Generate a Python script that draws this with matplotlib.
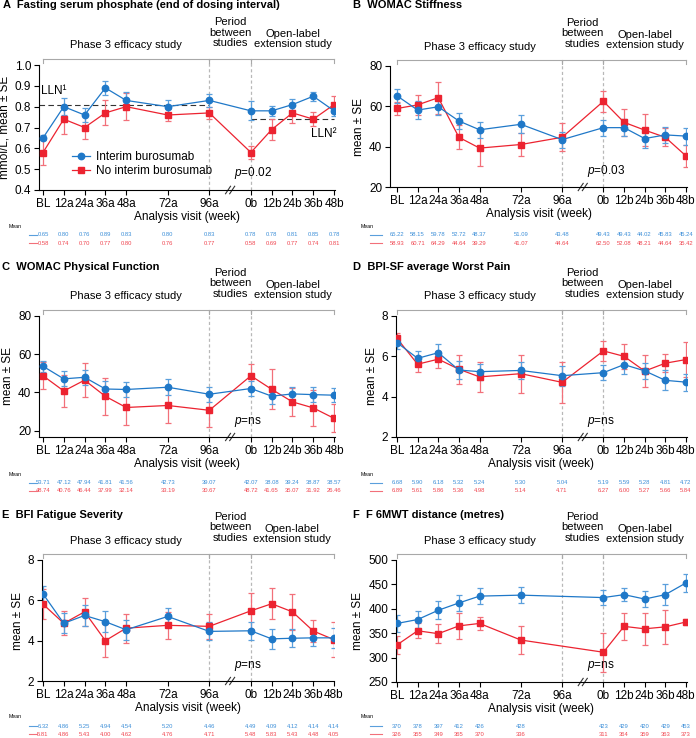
import numpy as np
import matplotlib
matplotlib.use("Agg")
import matplotlib.pyplot as plt
import matplotlib.transforms as mtransforms
from matplotlib.lines import Line2D

plt.rcParams['font.family'] = ['Liberation Sans', 'DejaVu Sans']
plt.rcParams['mathtext.fontset'] = 'custom'
plt.rcParams['mathtext.it'] = 'Liberation Sans:italic'
plt.rcParams['mathtext.rm'] = 'Liberation Sans'

# %% data
visits = ['BL', '12a', '24a', '36a', '48a', '72a', '96a', '0b', '12b', '24b', '36b', '48b']
visit_pos = [0, 1, 2, 3, 4, 6, 8, 10, 11, 12, 13, 14]

phos_int = [0.65, 0.80, 0.76, 0.89, 0.83, 0.80, 0.83, 0.78, 0.78, 0.81, 0.85, 0.78]
phos_int_se = [0.012, 0.04, 0.035, 0.035, 0.04, 0.03, 0.03, 0.045, 0.025, 0.025, 0.022, 0.025]
phos_no = [0.58, 0.74, 0.70, 0.77, 0.80, 0.76, 0.77, 0.58, 0.69, 0.77, 0.74, 0.81]
phos_no_se = [0.06, 0.07, 0.055, 0.06, 0.065, 0.03, 0.028, 0.03, 0.05, 0.05, 0.033, 0.04]

stiff_int = [65.22, 58.15, 59.78, 52.72, 48.37, 51.09, 43.48, 49.43, 49.43, 44.02, 45.83, 45.24]
stiff_int_se = [3.5, 4.5, 4, 4, 4, 4.5, 4, 4, 4.3, 4.8, 4, 4.2]
stiff_no = [58.93, 60.71, 64.29, 44.64, 39.29, 41.07, 44.64, 62.50, 52.08, 48.21, 44.64, 35.42]
stiff_no_se = [3.3, 5, 8, 6, 8.7, 5.7, 7, 5.3, 6.7, 8, 4.5, 5.3]

phys_int = [53.71, 47.12, 47.94, 41.81, 41.56, 42.73, 39.07, 42.07, 38.08, 39.24, 38.87, 38.57]
phys_int_se = [2.8, 4, 4, 4, 3.8, 4.3, 3.9, 3.7, 4.3, 3.6, 3.9, 3.7]
phys_no = [48.74, 40.76, 46.44, 37.99, 32.14, 33.19, 30.67, 48.72, 41.65, 35.07, 31.92, 26.46]
phys_no_se = [7, 8.5, 9, 9.8, 9.3, 9, 8.5, 6, 10.5, 7.5, 9.5, 7.3]

pain_int = [6.68, 5.90, 6.18, 5.32, 5.24, 5.30, 5.04, 5.19, 5.59, 5.28, 4.81, 4.72]
pain_int_se = [0.3, 0.37, 0.42, 0.45, 0.4, 0.42, 0.5, 0.38, 0.47, 0.4, 0.5, 0.42]
pain_no = [6.89, 5.61, 5.86, 5.36, 4.98, 5.14, 4.71, 6.27, 6.00, 5.27, 5.66, 5.84]
pain_no_se = [0.25, 0.4, 0.42, 0.72, 0.76, 0.95, 1.02, 0.48, 0.63, 0.78, 0.45, 0.88]

fat_int = [6.32, 4.86, 5.25, 4.94, 4.54, 5.20, 4.46, 4.49, 4.09, 4.12, 4.14, 4.14]
fat_int_se = [0.38, 0.5, 0.5, 0.52, 0.5, 0.4, 0.45, 0.45, 0.48, 0.45, 0.4, 0.48]
fat_no = [5.81, 4.86, 5.43, 4.00, 4.62, 4.76, 4.71, 5.48, 5.83, 5.43, 4.48, 4.05]
fat_no_se = [0.75, 0.6, 0.7, 0.82, 0.72, 0.68, 0.62, 0.9, 0.77, 0.9, 0.55, 0.88]

walk_int = [370, 378, 397, 412, 426, 428, None, 423, 429, 420, 429, 453]
walk_int_se = [18, 17, 18, 17, 16, 16, None, 15, 14, 16, 22, 19]
walk_no = [326, 355, 349, 365, 370, 336, None, 311, 364, 359, 363, 373]
walk_no_se = [18, 15, 19, 26, 14, 28, None, 40, 28, 33, 35, 6]

# %% style
BLUE = '#1f78c8'
BLUE_L = '#5a9fdc'
BLUE_T = '#3d8fd8'
RED = '#ec2330'
RED_L = '#f2707a'
RED_T = '#f04650'
GREY = '#a8a8a8'

W, H = 696, 738
fig = plt.figure(figsize=(W / 100, H / 100), dpi=100)


def fy(py):
    return 1 - py / H


def panel(title, tx, ty, left, right, top, bottom, bl_px, ppu, ylim, yticks, yfmt,
          ylabel, blue, blue_se, red, red_se, tab_fmt, tab_y, tab_x, seg_x, pval):
    ax = fig.add_axes([left / W, fy(bottom), (right - left) / W, (bottom - top) / H])
    ax.set_xlim((left - bl_px) / ppu, (right - bl_px) / ppu)
    ax.set_ylim(*ylim)
    for s in ['top', 'right']:
        ax.spines[s].set_visible(False)
    for s in ['left', 'bottom']:
        ax.spines[s].set_linewidth(0.8)
    ax.set_xticks(visit_pos)
    ax.set_xticklabels(visits)
    ax.set_yticks(yticks)
    ax.set_yticklabels([yfmt.format(v) for v in yticks])
    ax.tick_params(labelsize=8.5, length=3.5, width=0.8, pad=2)
    ax.set_xlabel('Analysis visit (week)', fontsize=8.5, labelpad=1)
    ax.set_ylabel(ylabel, fontsize=8.5, labelpad=3)

    # series: red first, blue on top
    for vals, se, col, lcol, mk in [(red, red_se, RED, RED_L, 's'),
                                    (blue, blue_se, BLUE, BLUE_L, 'o')]:
        xs = [p for p, v in zip(visit_pos, vals) if v is not None]
        ys = [v for v in vals if v is not None]
        es = [e for e in se if e is not None]
        ax.errorbar(xs, ys, yerr=es, fmt='none', ecolor=lcol, elinewidth=0.9,
                    capsize=2.3, capthick=0.9, zorder=2)
        ax.plot(xs, ys, color=col, lw=0.9, marker=mk, ms=4.6, mec=col, mfc=col, zorder=3)

    # brackets and period separators
    bt = mtransforms.blended_transform_factory(ax.transData, fig.transFigure)
    yb = fy(top - 6)
    ax.plot([0, 14], [yb, yb], color=GREY, lw=0.8, transform=bt, clip_on=False)
    for p in [0, 8, 10, 14]:
        ax.plot([p, p], [yb, fy(top - 2)], color=GREY, lw=0.8, transform=bt, clip_on=False)
    for p in [8, 10]:
        ax.plot([p, p], [fy(bottom), yb], color='#b8b8b8', lw=0.9, ls=(0, (2.5, 2)),
                transform=bt, clip_on=False, zorder=1)
    ax.text(4, fy(top - 19.5), 'Phase 3 efficacy study', transform=bt, ha='center',
            va='center', fontsize=8)
    ax.text(9, fy(top - 32.5), 'Period\nbetween\nstudies', transform=bt, ha='center',
            va='center', fontsize=8, linespacing=1.12)
    ax.text(12, fy(top - 26), 'Open-label\nextension study', transform=bt, ha='center',
            va='center', fontsize=8, linespacing=1.12)

    # axis break and p value
    at = mtransforms.blended_transform_factory(ax.transData, ax.transAxes)
    for dx in [-0.1, 0.1]:
        ax.plot([9 + dx - 0.12, 9 + dx + 0.12], [-0.03, 0.03], color='#333333', lw=0.8,
                transform=at, clip_on=False)
    ax.text(9.2, 0.07, '$p$=' + pval, transform=at, ha='left', va='bottom', fontsize=8.5)

    fig.text(tx / W, fy(ty), title, fontsize=8, fontweight='bold', ha='left', va='center')

    # table of means
    fig.text(tab_x / W, fy(tab_y[0]), 'Mean', fontsize=3.8, ha='left', va='center')
    for vals, col, tcol, y in [(blue, BLUE_L, BLUE_T, tab_y[1]), (red, RED_L, RED_T, tab_y[2])]:
        fig.add_artist(Line2D([seg_x[0] / W, seg_x[1] / W], [fy(y), fy(y)], color=col, lw=0.8))
        for p, v in zip(visit_pos, vals):
            if v is not None:
                ax.text(p, fy(y), tab_fmt.format(v), transform=bt, ha='center', va='center',
                        fontsize=4.2, color=tcol)
    return ax


axA = panel('A  Fasting serum phosphate (end of dosing interval)', 3, 5,
            39, 335, 65, 190, 43, 20.79, (0.4, 1.0), [0.4, 0.5, 0.6, 0.7, 0.8, 0.9, 1.0],
            '{:.1f}', 'mmol/L, mean ± SE', phos_int, phos_int_se, phos_no, phos_no_se,
            '{:.2f}', (226, 235, 243), 9, (29, 37), '0.02')
axA.plot([-0.2, 8], [0.81, 0.81], color='#333333', lw=0.8, ls=(0, (5, 3)), zorder=1)
axA.plot([10, 14], [0.74, 0.74], color='#333333', lw=0.8, ls=(0, (5, 3)), zorder=1)
axA.text(-0.1, 0.875, 'LLN¹', fontsize=8.5, ha='left', va='center')
axA.text(12.9, 0.667, 'LLN²', fontsize=8.5, ha='left', va='center')
handles = [Line2D([], [], color=BLUE, marker='o', ms=4.6, lw=0.9),
           Line2D([], [], color=RED, marker='s', ms=4.6, lw=0.9)]
axA.legend(handles, ['Interim burosumab', 'No interim burosumab'], loc='upper left',
           bbox_to_anchor=(0.11, 0.31), frameon=False, fontsize=8.5, handlelength=1.6,
           handletextpad=0.5, labelspacing=0.15, borderpad=0, borderaxespad=0)

panel('B  WOMAC Stiffness', 353, 5,
      390, 687, 66, 187, 397, 20.64, (20, 80), [20, 40, 60, 80],
      '{:.0f}', 'mean ± SE', stiff_int, stiff_int_se, stiff_no, stiff_no_se,
      '{:.2f}', (226, 235, 243), 361, (370, 382), '0.03')

panel('C  WOMAC Physical Function', 2, 267,
      39, 335, 316, 437, 43, 20.79, (16.7, 80), [20, 40, 60, 80],
      '{:.0f}', 'mean ± SE', phys_int, phys_int_se, phys_no, phys_no_se,
      '{:.2f}', (475, 483, 491), 9, (29, 37), 'ns')

panel('D  BPI-SF average Worst Pain', 353, 267,
      396, 687, 316, 437, 397, 20.64, (2, 8), [2, 4, 6, 8],
      '{:.0f}', 'mean ± SE', pain_int, pain_int_se, pain_no, pain_no_se,
      '{:.2f}', (475, 483, 491), 361, (370, 382), 'ns')

panel('E  BFI Fatigue Severity', 2, 515,
      42, 334, 560, 681, 43, 20.79, (2, 8), [2, 4, 6, 8],
      '{:.0f}', 'mean ± SE', fat_int, fat_int_se, fat_no, fat_no_se,
      '{:.2f}', (717, 726, 734), 9, (29, 37), 'ns')

panel('F  F 6MWT distance (metres)', 353, 515,
      396, 687, 560, 682, 397, 20.64, (250, 500), [250, 300, 350, 400, 450, 500],
      '{:.0f}', 'mean ± SE', walk_int, walk_int_se, walk_no, walk_no_se,
      '{:.0f}', (717, 726, 734), 361, (370, 382), 'ns')

fig.savefig('out.png', dpi=100)
